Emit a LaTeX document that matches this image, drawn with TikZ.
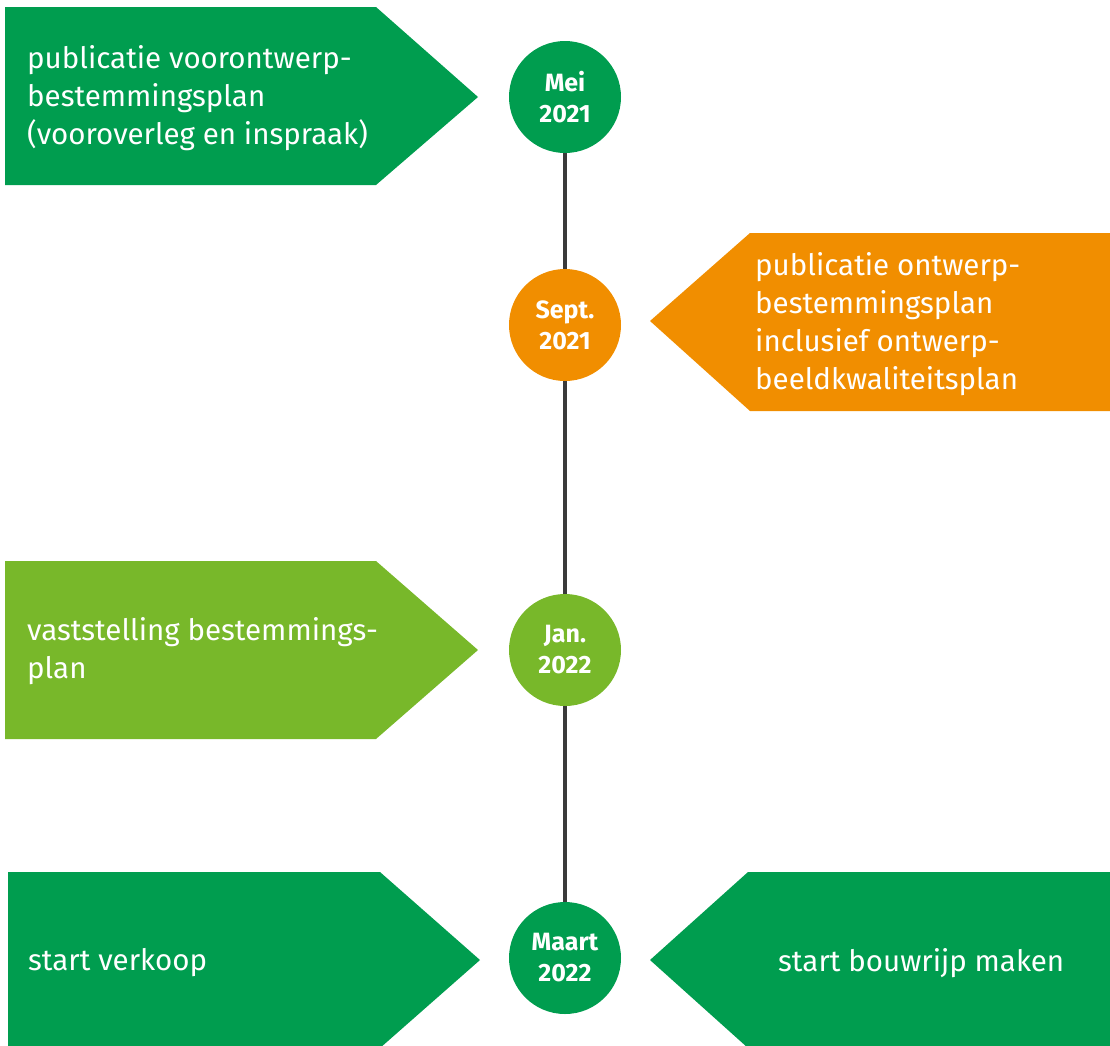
\documentclass[tikz,border=0pt]{standalone}
\usepackage{fontspec}
\setmainfont{Fira Sans}
\definecolor{kpgreen}{RGB}{0,157,79}
\definecolor{kporange}{RGB}{241,142,0}
\definecolor{kplight}{RGB}{120,184,42}
\definecolor{kpline}{RGB}{58,58,58}

\begin{document}
\begin{tikzpicture}[x=1pt,y=-1pt,
  datum/.style={circle,minimum size=112pt,inner sep=0pt,text=white,
    font=\bfseries\fontsize{25}{31}\selectfont,align=center},
  uitleg/.style={anchor=west,inner sep=0pt,text=white,align=left,
    font=\fontsize{29.5}{38}\selectfont}]
\useasboundingbox (0,0) rectangle (1110,1045);
\clip (0,0) rectangle (1110,1045);
% pijlvlakken
\fill[kpgreen] (5,7) -- (376,7) -- (478,97) -- (376,185) -- (5,185) -- cycle;
\fill[kporange] (1110,233) -- (750,233) -- (650,321) -- (750,411) -- (1110,411) -- cycle;
\fill[kplight] (5,561) -- (376,561) -- (478,650) -- (376,739) -- (5,739) -- cycle;
\fill[kpgreen] (8,872) -- (380,872) -- (480,960) -- (380,1048) -- (8,1048) -- cycle;
\fill[kpgreen] (1110,872) -- (748,872) -- (650,960) -- (748,1048) -- (1110,1048) -- cycle;
% teksten
\node[uitleg] (voorontwerp) at (27,98) {publicatie voorontwerp-\\bestemmingsplan\\(vooroverleg en inspraak)};
\node[uitleg] (ontwerp) at (755,324) {publicatie ontwerp-\\bestemmingsplan\\inclusief ontwerp-\\beeldkwaliteitsplan};
\node[uitleg] (vaststelling) at (27,651) {vaststelling bestemmings-\\plan};
\node[uitleg] (verkoop) at (28,963) {start verkoop};
\node[uitleg] (bouwrijp) at (778,963) {start bouwrijp maken};
% tijdlijn
\node[datum,fill=kpgreen] (mei) at (565,97) {Mei\\2021};
\node[datum,fill=kporange] (sept) at (565,325) {Sept.\\2021};
\node[datum,fill=kplight] (jan) at (565,650) {Jan.\\2022};
\node[datum,fill=kpgreen] (maart) at (565,958) {Maart\\2022};
\draw[kpline,line width=4pt] (mei) -- (sept);
\draw[kpline,line width=4pt] (sept) -- (jan);
\draw[kpline,line width=4pt] (jan) -- (maart);
\end{tikzpicture}
\end{document}
